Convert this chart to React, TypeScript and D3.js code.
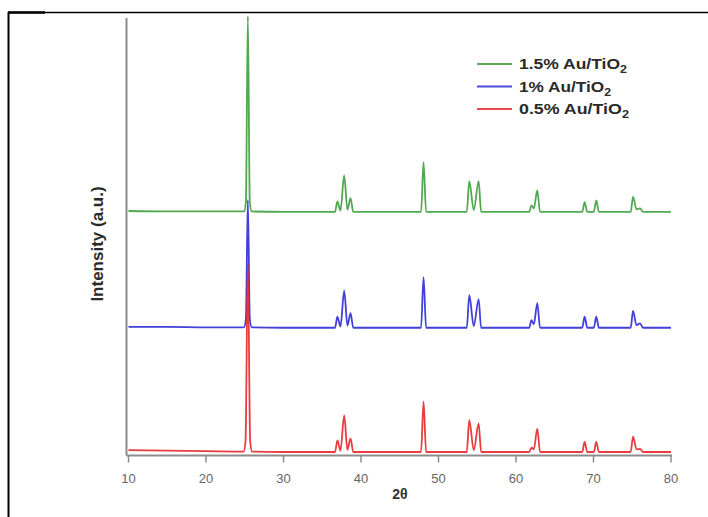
import * as d3 from "d3";

// XRD patterns, [2θ, net intensity in a.u.]
const redPattern: [number, number][] = [
  [10, 4], [15, 3], [20, 2], [24.85, 1], [25.1, 24], [25.4, 428], [25.7, 24], [25.95, 1],
  [30, 0], [36.65, 0], [36.95, 26], [37.35, 3], [37.83, 83], [38.25, 5], [38.65, 31], [39.0, 0],
  [47.75, 0], [48.07, 115], [48.4, 0], [53.65, 0], [53.97, 72], [54.55, 4], [55.18, 65], [55.5, 0],
  [61.7, 0], [62.0, 10], [62.3, 6], [62.75, 53], [63.1, 0], [68.55, 0], [68.85, 23], [69.2, 0],
  [70.05, 0], [70.35, 23], [70.7, 0], [74.8, 0], [75.1, 35], [75.55, 6], [76.0, 7], [76.4, 0], [80, 0],
];

const bluePattern: [number, number][] = [
  [10, 2], [15, 2], [20, 1], [24.9, 1], [25.15, 20], [25.4, 290], [25.65, 20], [25.9, 1],
  [30, 0], [36.65, 0], [36.95, 25], [37.35, 3], [37.83, 84], [38.25, 5], [38.65, 33], [39.0, 0],
  [47.75, 0], [48.07, 115], [48.4, 0], [53.65, 0], [53.97, 74], [54.55, 4], [55.18, 65], [55.5, 0],
  [61.7, 0], [62.0, 17], [62.3, 8], [62.75, 56], [63.1, 0], [68.55, 0], [68.85, 25], [69.2, 0],
  [70.05, 0], [70.35, 25], [70.7, 0], [74.8, 0], [75.1, 38], [75.55, 6], [76.0, 10], [76.4, 0], [80, 0],
];

const greenPattern: [number, number][] = [
  [10, 2], [15, 1], [20, 1], [24.9, 1], [25.15, 22], [25.4, 444], [25.65, 22], [25.9, 1],
  [30, 0], [36.65, 0], [36.95, 24], [37.35, 3], [37.83, 83], [38.25, 5], [38.65, 31], [39.0, 0],
  [47.75, 0], [48.07, 113], [48.4, 0], [53.65, 0], [53.97, 70], [54.55, 4], [55.18, 70], [55.5, 0],
  [61.7, 0], [62.0, 15], [62.3, 8], [62.75, 49], [63.1, 0], [68.55, 0], [68.85, 22], [69.2, 0],
  [70.05, 0], [70.35, 26], [70.7, 0], [74.8, 0], [75.1, 34], [75.55, 6], [76.0, 8], [76.4, 0], [80, 0],
];

const seriesNames = ["1.5% Au/TiO", "1% Au/TiO", "0.5% Au/TiO"];
const seriesOffsets = [553, 290, 8];
const xTicks = [10, 20, 30, 40, 50, 60, 70, 80];

const colors = ["#3d9e3d", "#2b2bd6", "#e8262a"];
const legendWidths = [108, 92, 110];

const W = 708;
const H = 517;
const plot = { left: 126.5, right: 671, top: 15, bottom: 455.5 };

export default function App() {
  const x = d3.scaleLinear().domain([10, 80]).range([128.5, plot.right]);
  const y = d3.scaleLinear().domain([0, 1000]).range([plot.bottom, plot.top]);

  const line = d3
    .line<[number, number]>()
    .x((d) => x(d[0]))
    .y((d) => y(d[1]))
    .curve(d3.curveMonotoneX);

  const patterns = [greenPattern, bluePattern, redPattern];
  const shifted = patterns.map((p, i) =>
    p.map(([t, v]) => [t, v + seriesOffsets[i]] as [number, number])
  );

  // blue under red, green on top
  const drawOrder = [1, 2, 0];

  return (
    <svg
      width={W}
      height={H}
      style={{ position: "absolute", left: 0, top: 0, background: "#fff" }}
      fontFamily="Liberation Sans, Arial, sans-serif"
    >
      {/* cell border */}
      <line x1={8} x2={708} y1={12.5} y2={12.5} stroke="#000" strokeWidth={1.5} />
      <line x1={8} x2={45} y1={12.5} y2={12.5} stroke="#000" strokeWidth={2.5} />
      <line x1={8.5} x2={8.5} y1={12} y2={517} stroke="#000" strokeWidth={2} />

      {/* axes */}
      <line x1={plot.left} x2={plot.left} y1={18} y2={plot.bottom} stroke="#8c8c8c" strokeWidth={2} />
      <line x1={plot.left} x2={x(80) + 1} y1={plot.bottom} y2={plot.bottom} stroke="#8c8c8c" strokeWidth={2} />
      {xTicks.map((t) => (
        <g key={t}>
          <line x1={x(t)} x2={x(t)} y1={plot.bottom} y2={plot.bottom + 7} stroke="#8c8c8c" strokeWidth={1.5} />
          <text x={x(t)} y={483} textAnchor="middle" fontSize={13} fill="#666">
            {t}
          </text>
        </g>
      ))}
      <text x={400} y={499} textAnchor="middle" fontSize={14} fontWeight={700} fill="#333">
        2θ
      </text>
      <text
        transform="translate(103,244) rotate(-90)"
        textAnchor="middle"
        fontSize={17}
        fontWeight={700}
        fill="#2a2a2a"
      >
        Intensity (a.u.)
      </text>

      {/* patterns */}
      {drawOrder.map((i) => (
        <path
          key={i}
          d={line(shifted[i]) ?? ""}
          fill="none"
          stroke={colors[i]}
          strokeWidth={1.8}
          strokeOpacity={0.9}
          strokeLinejoin="round"
        />
      ))}

      {/* legend */}
      {seriesNames.map((name, i) => {
        const ly = 64 + i * 22.5;
        return (
          <g key={name}>
            <line x1={477} x2={512} y1={ly} y2={ly} stroke={colors[i]} strokeWidth={2} strokeOpacity={0.85} />
            <text
              x={519}
              y={ly + 5}
              fontSize={14}
              fontWeight={700}
              fill="#2a2a2a"
              textLength={legendWidths[i]}
              lengthAdjust="spacingAndGlyphs"
            >
              {name}
              <tspan fontSize={10} dy={4}>2</tspan>
            </text>
          </g>
        );
      })}
    </svg>
  );
}
